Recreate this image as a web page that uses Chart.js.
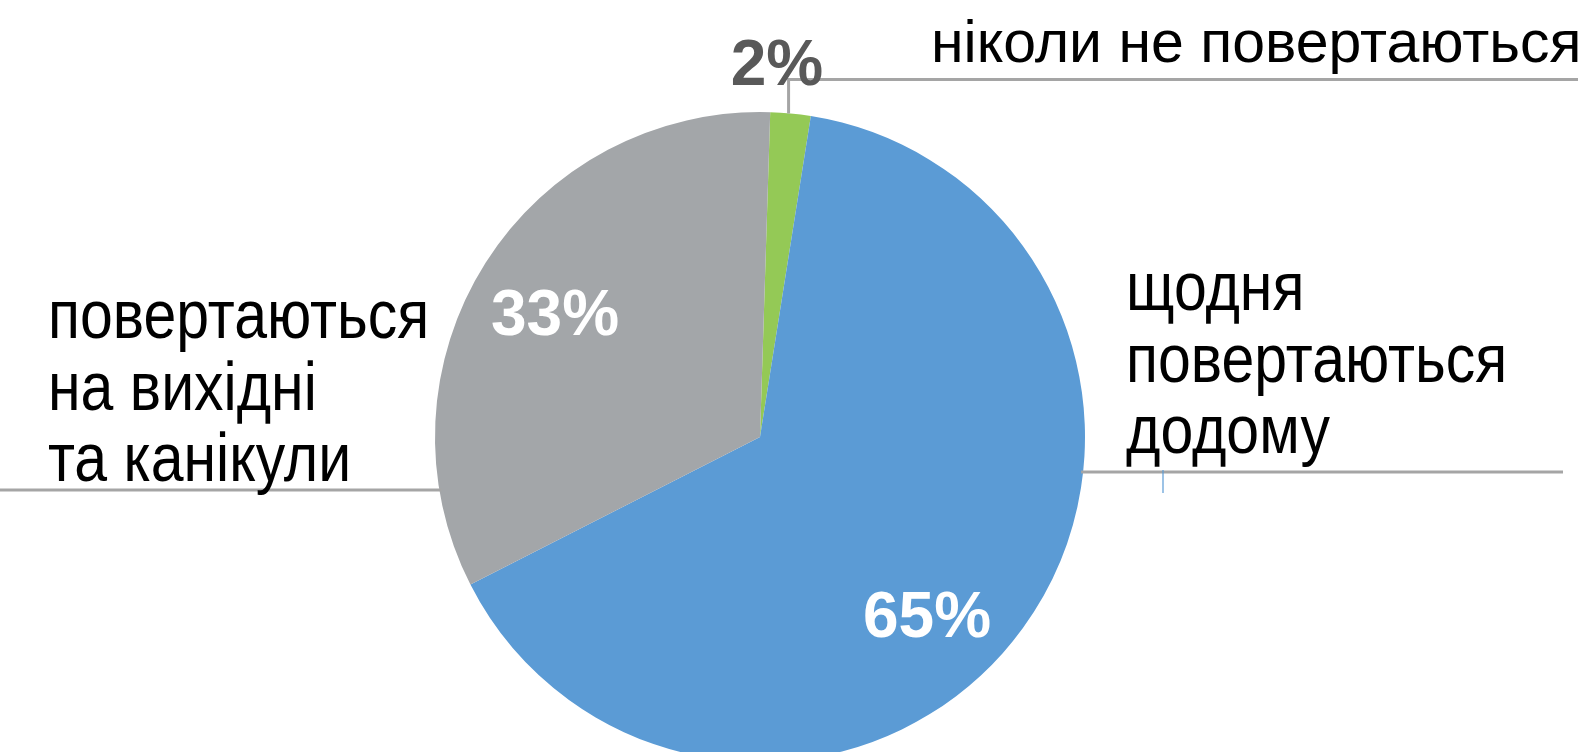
<!DOCTYPE html>
<html><head><meta charset="utf-8">
<script src="https://cdn.jsdelivr.net/npm/chart.js@4"></script>
<style>html,body{margin:0;padding:0;background:#fff;overflow:hidden;width:1588px;height:752px}canvas{display:block}</style>
</head><body><canvas id="c" width="1588" height="800"></canvas>
<script>
const categories = ['ніколи не повертаються', 'щодня повертаються додому', 'повертаються на вихідні та канікули'];
const values = [2, 65, 33];
const percentLabels = ['2%', '65%', '33%'];
const labelLines = [['ніколи не повертаються'], ['щодня', 'повертаються', 'додому'], ['повертаються', 'на вихідні', 'та канікули']];
const colors = ['#94C956', '#5B9BD5', '#A3A6A9'];

const FONT = '"Liberation Sans", Arial, sans-serif';

const labelPlugin = {
  id: 'pieLabels',
  afterDatasetsDraw(chart) {
    const ctx = chart.ctx;
    const arcs = chart.getDatasetMeta(0).data;
    const a0 = arcs[0];
    const cx = a0.x, cy = a0.y, r = a0.outerRadius;
    ctx.save();
    // leader lines
    ctx.strokeStyle = '#A5A5A5';
    ctx.lineWidth = 3;
    const gm = (a0.startAngle + a0.endAngle) / 2;
    const gx = cx + r * Math.cos(gm) - 2, gy = cy + r * Math.sin(gm);
    ctx.beginPath();
    ctx.moveTo(gx, gy);
    ctx.lineTo(gx, cy - 357.5);
    ctx.lineTo(cx + 818, cy - 357.5);
    ctx.stroke();
    // right line
    const ry = cy + 35;
    ctx.beginPath();
    ctx.moveTo(cx + Math.sqrt(r * r - 35 * 35) - 2, ry);
    ctx.lineTo(cx + 803, ry);
    ctx.stroke();
    // left line
    const ly = cy + 53;
    ctx.beginPath();
    ctx.moveTo(0, ly);
    ctx.lineTo(cx - Math.sqrt(r * r - 53 * 53) + 2, ly);
    ctx.stroke();
    // small blue tick
    ctx.strokeStyle = '#5B9BD5';
    ctx.lineWidth = 1.2;
    ctx.beginPath();
    ctx.moveTo(cx + 403, cy + 33);
    ctx.lineTo(cx + 403, cy + 56);
    ctx.stroke();

    // category labels
    ctx.fillStyle = '#000';
    ctx.textAlign = 'left';
    ctx.textBaseline = 'alphabetic';
    ctx.font = '59px ' + FONT;
    ctx.fillText(labelLines[0][0], cx + 171, cy - 375);
    const drawBlock = (lines, x, y0, step) => {
      lines.forEach((t, i) => {
        ctx.save();
        ctx.translate(x, y0 + i * step);
        ctx.scale(1, 1.16);
        ctx.fillText(t, 0, 0);
        ctx.restore();
      });
    };
    drawBlock(labelLines[1], cx + 366, cy - 127, 71.5);
    drawBlock(labelLines[2], 48, cy - 99, 71.5);

    // percent labels
    ctx.font = 'bold 64px ' + FONT;
    ctx.textAlign = 'center';
    ctx.fillStyle = '#595959';
    ctx.fillText(percentLabels[0], cx + 17, cy - 352);
    ctx.fillStyle = '#FFFFFF';
    ctx.fillText(percentLabels[1], cx + 167, cy + 200);
    ctx.fillText(percentLabels[2], cx - 205, cy - 102);
    ctx.restore();
  }
};

new Chart(document.getElementById('c'), {
  type: 'pie',
  data: {
    labels: categories,
    datasets: [{ data: values, backgroundColor: colors, borderWidth: 0, hoverOffset: 0 }]
  },
  options: {
    responsive: false,
    animation: false,
    events: [],
    rotation: 1.8,
    layout: { padding: { left: 435, right: 503, top: 112, bottom: 38 } },
    plugins: { legend: { display: false }, tooltip: { enabled: false } }
  },
  plugins: [labelPlugin]
});
</script>
</body></html>
